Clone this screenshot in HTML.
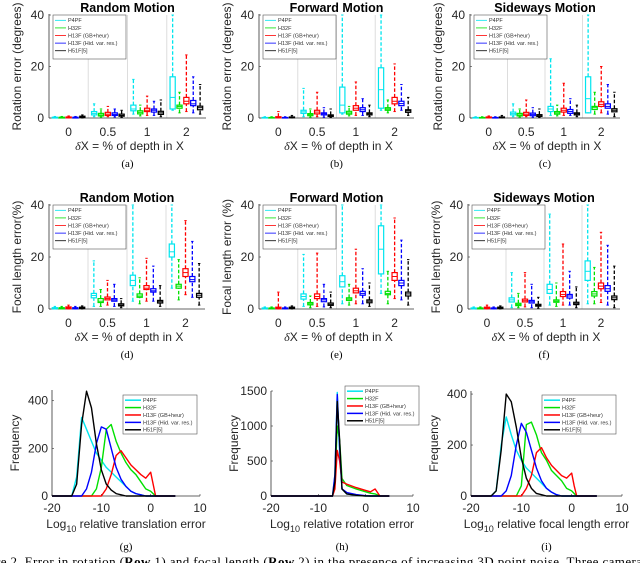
<!DOCTYPE html>
<html><head><meta charset="utf-8">
<style>
html,body{margin:0;padding:0;background:#fff;}
svg{display:block;font-family:"Liberation Sans",sans-serif;}
.ser{font-family:"Liberation Serif",serif;}
</style></head>
<body>
<svg id="fig" width="640" height="563" viewBox="0 0 640 563" xmlns="http://www.w3.org/2000/svg">
<text class="ser" x="-4" y="566" font-size="13" fill="#000" textLength="646" lengthAdjust="spacing">re 2.   Error in rotation (<tspan font-weight="bold">Row</tspan> 1) and focal length (<tspan font-weight="bold">Row</tspan> 2) in the presence of increasing 3D point noise.   Three camera</text>
</svg>
<script>
const methods = ["P4PF","H32F","H13F (GB+heur)","H13F (Hid. var. res.)","H51F[5]"];
const colors = ["#00e5ee","#00e000","#ff0000","#0000ff","#000000"];
const groups = ["0","0.5","1","2"];
// boxplot stats per plot: [group][method] = [whiskerLow, q1, median, q3, whiskerHigh]
const rotRandom = [
 [[0,0,0.1,0.3,0.6],[0,0,0.1,0.3,0.6],[0,0.1,0.2,0.4,0.8],[0,0,0.1,0.3,0.6],[0,0.2,0.4,0.7,1.2]],
 [[0.5,1.2,1.8,2.5,5.5],[0.3,0.8,1.2,1.8,3.5],[0.5,1,1.5,2.2,4.5],[0.4,1,1.4,2,3.5],[0.2,0.7,1,1.5,3]],
 [[1.5,2.8,3.5,5,15],[0.8,1.6,2.2,2.8,5],[1,2.5,3,3.8,8.5],[1,2.3,3,3.5,6.5],[0.5,1.4,2,2.6,7]],
 [[3,3.5,8,16,40],[2,3.8,4.5,5,10],[2.5,5.5,6.5,8,24.5],[2,4.8,5.5,6.8,16],[1.5,3.2,4,4.6,13]]];
const rotForward = [
 [[0,0,0.1,0.2,0.5],[0,0,0.1,0.2,0.5],[0,0.1,0.3,0.5,2.5],[0,0,0.1,0.2,0.5],[0,0.1,0.2,0.4,1]],
 [[0.5,1.8,2.4,3,11.5],[0.3,0.9,1.3,1.7,3.5],[0.5,1.6,2.3,3,10],[0.3,1.2,1.6,2,4],[0.2,0.6,0.9,1.2,3.5]],
 [[1.5,2,5,12,40],[0.8,1.5,2,2.6,4.5],[1,3,3.8,4.8,14],[1,2.5,3.2,4,7.5],[0.5,1.2,1.6,2,5]],
 [[3,3.8,11,19.5,40],[2,3,3.5,4,7],[2.5,5.5,6.5,8,21],[3,4.8,5.6,6.5,13],[1,2.2,2.8,3.2,8]]];
const rotSideways = [
 [[0,0,0.1,0.2,0.5],[0,0,0.1,0.2,0.5],[0,0.1,0.2,0.4,0.8],[0,0,0.1,0.2,0.5],[0,0.1,0.2,0.4,1]],
 [[0.5,1.2,1.7,2.3,5.5],[0.3,0.8,1.2,1.8,3.5],[0.5,1,1.5,2.2,7],[0.3,0.9,1.4,1.9,4],[0.2,0.6,0.9,1.3,3.5]],
 [[1,2.5,3.5,4.5,23],[0.8,1.5,2,2.5,5],[1,2.3,3,3.8,13.5],[1,1.8,2.5,3.3,7.5],[0.5,1.2,1.6,2,5]],
 [[2,2,7.5,16,40],[1.5,3.3,4,4.5,10],[2,4.5,5.3,6.3,20],[1.5,3.8,4.5,5.5,13],[0.5,2.4,3,3.6,10]]];
const focRandom = [
 [[0,0.1,0.2,0.5,1],[0,0.1,0.2,0.5,1],[0,0.2,0.4,0.8,1.5],[0,0.1,0.2,0.5,1],[0,0.2,0.4,0.7,1.2]],
 [[1,4.3,5.2,6,18.5],[1,2.5,3,4,7.5],[1.5,3.5,4,4.6,11],[1,3,3.5,4,9.5],[0.5,1.2,1.5,2,4]],
 [[3,9,11,13,40],[2,4.5,5,5.8,12],[3,7.5,8,9,19.5],[3,6.5,7,7.8,16.5],[1,2.3,2.8,3.3,9]],
 [[8,20,22,25,40],[3.5,8,8.8,9.5,19],[5.5,12.5,14,15.5,34],[4.5,10.5,11.3,12.5,26],[1.5,4.5,5.3,6,17.5]]];
const focForward = [
 [[0,0.1,0.2,0.4,0.8],[0,0.1,0.2,0.4,0.8],[0,0.2,0.4,0.7,6.5],[0,0.1,0.2,0.4,0.8],[0,0.2,0.4,0.7,1.2]],
 [[1,3.8,4.8,5.8,21],[0.5,1.6,2,2.5,5],[1,4,4.8,5.8,21.5],[0.8,2.8,3.5,4,9.5],[0.5,1.4,1.8,2.3,6.5]],
 [[2,8.5,10.5,12.8,40],[1.5,3.3,3.8,4.3,9.5],[2,6.2,7,8,23],[2,5.3,6,6.8,15.5],[1,2.4,3,3.5,10]],
 [[6,13.5,23,32,40],[2,5.5,6,6.8,14.5],[4,11,12.5,14,35],[3.5,9,10,11,26.5],[1.5,5,5.8,6.5,19]]];
const focSideways = [
 [[0,0.1,0.2,0.4,0.8],[0,0.1,0.2,0.4,0.8],[0,0.2,0.4,0.7,1.5],[0,0.1,0.2,0.4,0.8],[0,0.2,0.4,0.7,1.2]],
 [[0.5,2.7,3.5,4.3,14],[0.5,1.3,1.7,2.2,6],[0.8,2.7,3.2,3.8,14],[0.5,2.3,2.8,3.3,9.5],[0.3,1.1,1.4,1.8,4.5]],
 [[1.5,6,7.5,9.5,36.5],[1,2.6,3,3.5,10],[1.5,4.8,5.6,6.7,25],[1.5,4.2,5,5.6,14.5],[0.5,1.7,2.2,2.6,8.5]],
 [[2,11,14.5,18.5,40],[2,5,5.8,6.7,16],[2.5,7.8,8.8,10,29.5],[1.5,6.8,7.8,9,24.5],[0.5,3.6,4.3,5,16.5]]];
const boxYTicks = [0,20,40];
// histogram data
const histX = [-20,-16,-15,-14,-13,-12,-11,-10,-9,-8,-7,-6,-5,-4,-3,-2,-1,0,0.5,1,2,5];
const transCyan  = [0,0,80,330,280,230,180,150,120,100,80,60,40,20,10,5,0,0,0,0,0,0];
const transGreen = [0,0,0,0,0,0,30,120,280,300,230,180,140,110,90,60,30,20,10,0,0,0];
const transRed   = [0,0,0,0,0,0,0,0,30,90,170,190,160,130,110,90,75,100,50,0,0,0];
const transBlue  = [0,0,0,0,30,100,220,290,280,200,120,70,40,20,10,5,0,0,0,0,0,0];
const transBlack = [0,0,50,300,440,370,220,110,50,25,10,5,0,0,0,0,0,0,0,0,0,0];
const rotHistX = [-20,-7,-6.5,-6,-5.5,-5,-4,-2,0,1,2,3,5];
const rotCyan  = [0,0,300,1480,600,100,30,10,0,0,0,0,0];
const rotGreen = [0,0,200,1000,800,250,150,100,60,40,30,0,0];
const rotRed   = [0,0,100,650,500,200,170,120,80,60,100,0,0];
const rotBlue  = [0,0,300,1450,700,100,50,20,5,0,0,0,0];
const rotBlack = [0,0,200,1350,800,100,30,10,0,0,0,0,0];
const focCyan  = [0,0,20,200,310,240,180,140,110,90,70,50,30,15,5,0,0,0,0,0,0,0];
const focGreen = [0,0,0,0,0,0,0,40,280,290,240,170,140,100,80,60,30,20,10,0,0,0];
const focRed   = [0,0,0,0,0,0,0,0,30,80,170,190,150,120,100,80,70,90,40,0,0,0];
const focBlue  = [0,0,0,0,20,80,200,285,250,180,110,60,30,15,5,0,0,0,0,0,0,0];
const focBlack = [0,0,20,180,400,370,270,150,70,30,10,5,0,0,0,0,0,0,0,0,0,0];
const histXTicks = [-20,-10,0,10];

const NS = "http://www.w3.org/2000/svg";
const svg = document.getElementById("fig");
function mk(tag, attrs, parent){const e=document.createElementNS(NS,tag);for(const k in attrs)e.setAttribute(k,attrs[k]);(parent||svg).appendChild(e);return e;}
function txt(s, attrs, parent){const e=mk("text",attrs,parent);e.textContent=s;return e;}

function legend(g, x, y, w, h, dy, seg, fs){
  const lg = mk("g",{},g);
  
  
  mk("rect",{x:x,y:y,width:w,height:h,fill:"#fff",stroke:"#555","stroke-width":0.6},lg);
  methods.forEach((m,k)=>{
    const yy = y+dy*(k+0.7);
    const ent = mk("g",{},lg);
    
    
    mk("line",{x1:x+2,x2:x+2+seg,y1:yy,y2:yy,stroke:colors[k],"stroke-width":seg>12?1.5:0.8},ent);
    txt(m,{x:x+4+seg,y:yy+fs*0.35,"font-size":fs,fill:"#333"},ent);
  });
}

function boxPlot(data, L, R, T, B, title, ylabel, sub){
  const g = mk("g",{});
  
  
  const ymax = 40;
  const Y = v => B - Math.min(v,ymax)/ymax*(B-T);
  const W = (R-L)/groups.length;
  const X = (i,k) => L + W*i + W*(0.15+0.175*k);
  for(let i=1;i<groups.length;i++){ mk("line",{x1:L+W*i,x2:L+W*i,y1:T,y2:B,stroke:"#ddd","stroke-width":1},g); }
  mk("line",{x1:L,x2:L,y1:T-1,y2:B,stroke:"#333","stroke-width":0.8},g);
  mk("line",{x1:L,x2:R,y1:B,y2:B,stroke:"#333","stroke-width":0.8},g);
  boxYTicks.forEach(t=>{
    mk("line",{x1:L,x2:L+2,y1:Y(t),y2:Y(t),stroke:"#333","stroke-width":0.6},g);
    txt(String(t),{x:L-5,y:Y(t)+4,"font-size":12,"text-anchor":"end",fill:"#262626"},g);
  });
  groups.forEach((gr,i)=>{
    const t = txt(gr,{x:L+W*(i+0.5),y:B+18,"font-size":12,"text-anchor":"middle",fill:"#262626"},g);
    
    
    data[i].forEach((s,k)=>{
      const cx = X(i,k), c = colors[k], hw = 2.6;
      const b = mk("g",{},g);
      
      
      mk("line",{x1:cx,x2:cx,y1:Y(s[3]),y2:Y(s[4]),stroke:c,"stroke-width":1.3,"stroke-dasharray":"3.5,2"},b);
      mk("line",{x1:cx,x2:cx,y1:Y(s[0]),y2:Y(s[1]),stroke:c,"stroke-width":1.3,"stroke-dasharray":"3.5,2"},b);
      mk("line",{x1:cx-1.2,x2:cx+1.2,y1:Y(s[4]),y2:Y(s[4]),stroke:c,"stroke-width":1},b);
      mk("line",{x1:cx-1.2,x2:cx+1.2,y1:Y(s[0]),y2:Y(s[0]),stroke:c,"stroke-width":1},b);
      mk("rect",{x:cx-hw,y:Y(s[3]),width:hw*2,height:Math.max(Y(s[1])-Y(s[3]),0.5),fill:"none",stroke:c,"stroke-width":1.2},b);
      mk("line",{x1:cx-hw,x2:cx+hw,y1:Y(s[2]),y2:Y(s[2]),stroke:c,"stroke-width":1},b);
    });
  });
  legend(g, L+4, T, 73, 44, 7.6, 11, 5.5);
  txt(title,{x:(L+R)/2,y:T-3,"font-size":12.5,"font-weight":"bold","text-anchor":"middle",fill:"#000"},g);
  const yl = txt(ylabel,{x:0,y:0,"font-size":12,"text-anchor":"middle",fill:"#262626",transform:`translate(${L-28},${(T+B)/2}) rotate(-90)`},g);
  
  
  const xl = txt("",{x:(L+R)/2+2,y:B+32,"font-size":12,"text-anchor":"middle",fill:"#262626"},g);
  
  
  const ts1 = mk("tspan",{"font-family":"Liberation Serif, serif","font-style":"italic"},xl); ts1.textContent="δ";
  const ts2 = mk("tspan",{},xl); ts2.textContent="X = % of depth in X";
  const sl = txt(sub,{x:(L+R)/2,y:B+49,"font-size":11,"text-anchor":"middle",class:"ser",fill:"#000"},g);
  
  
}

function histPlot(xs, series, L, R, T, B, ymax, yticks, xlabelWord, sub, leg){
  const g = mk("g",{});
  
  
  const X = v => L + (v+20)/30*(R-L);
  const Y = v => B - v/ymax*(B-T);
  mk("line",{x1:L,x2:L,y1:T,y2:B,stroke:"#333","stroke-width":0.8},g);
  mk("line",{x1:L,x2:R,y1:B,y2:B,stroke:"#333","stroke-width":0.8},g);
  yticks.forEach(t=>{
    mk("line",{x1:L,x2:L+2,y1:Y(t),y2:Y(t),stroke:"#333","stroke-width":0.6},g);
    txt(String(t),{x:L-4,y:Y(t)+4,"font-size":12,"text-anchor":"end",fill:"#262626"},g);
  });
  histXTicks.forEach(t=>{
    mk("line",{x1:X(t),x2:X(t),y1:B,y2:B-2,stroke:"#333","stroke-width":0.6},g);
    txt(String(t),{x:X(t),y:B+16,"font-size":12,"text-anchor":"middle",fill:"#262626"},g);
  });
  series.forEach((ys,k)=>{
    const p = mk("polyline",{points:xs.map((x,j)=>X(x)+","+Y(ys[j])).join(" "),fill:"none",stroke:colors[k],"stroke-width":1.4,"stroke-linejoin":"round"},g);
    
    
  });
  legend(g, leg[0], leg[1], 74, 39, 7.4, 16, 5.5);
  const yl = txt("Frequency",{x:0,y:0,"font-size":12,"text-anchor":"middle",fill:"#262626",transform:`translate(${L-33},${(T+B)/2}) rotate(-90)`},g);
  
  
  const xl = txt("",{x:(L+R)/2,y:B+32,"font-size":12,"text-anchor":"middle",fill:"#262626"},g);
  
  
  const a = mk("tspan",{},xl); a.textContent="Log";
  const b = mk("tspan",{"font-size":9,dy:4},xl); b.textContent="10";
  const c = mk("tspan",{dy:-4},xl); c.textContent=" relative "+xlabelWord+" error";
  const sl = txt(sub,{x:(L+R)/2,y:B+54,"font-size":11,"text-anchor":"middle",class:"ser",fill:"#000"},g);
  
  
}

boxPlot(rotRandom, 49, 206, 15, 118, "Random Motion", "Rotation error (degrees)", "(a)");
boxPlot(rotForward, 259, 414, 15, 118, "Forward Motion", "Rotation error (degrees)", "(b)");
boxPlot(rotSideways, 470, 620, 15, 118, "Sideways Motion", "Rotation error (degrees)", "(c)");
boxPlot(focRandom, 49, 205, 205, 309, "Random Motion", "Focal length error(%)", "(d)");
boxPlot(focForward, 259, 414, 205, 309, "Forward Motion", "Focal length error (%)", "(e)");
boxPlot(focSideways, 468, 620, 205, 309, "Sideways Motion", "Focal length error(%)", "(f)");
histPlot(histX,[transCyan,transGreen,transRed,transBlue,transBlack],52,200,390,496,445,[0,200,400],"translation","(g)",[123,395]);
histPlot(rotHistX,[rotCyan,rotGreen,rotRed,rotBlue,rotBlack],271,413,391,496,1500,[0,500,1000,1500],"rotation","(h)",[345,386]);
histPlot(histX,[focCyan,focGreen,focRed,focBlue,focBlack],471,622,391,496,412,[0,200,400],"focal length","(i)",[542,395]);
</script>
</body></html>
